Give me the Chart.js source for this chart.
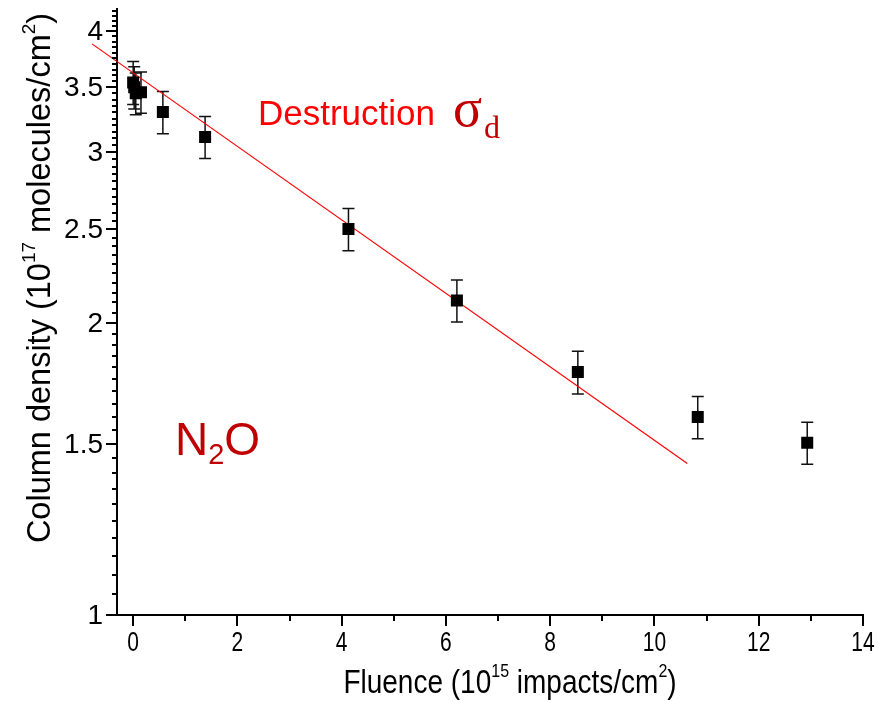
<!DOCTYPE html>
<html>
<head>
<meta charset="utf-8">
<script src="https://cdn.jsdelivr.net/npm/chart.js@4.4.0/dist/chart.umd.min.js"></script>
<style>
  body { margin: 0; background: #fff; }
  #wrap { width: 879px; height: 701px; }
</style>
</head>
<body>
<div id="wrap"><canvas id="chart" width="879" height="701"></canvas></div>
<script>
// N2O column density vs fluence (1e15 impacts/cm2 -> 1e17 molecules/cm2)
const fluence = [0, 0.02, 0.05, 0.15, 0.57, 1.38, 4.13, 6.21, 8.53, 10.83, 12.93];
const density = [3.54, 3.50, 3.45, 3.46, 3.30, 3.11, 2.50, 2.11, 1.78, 1.60, 1.505];
const densityErr = [0.18, 0.175, 0.17, 0.17, 0.165, 0.155, 0.125, 0.105, 0.09, 0.08, 0.075];

// end points of the red exponential fit
const fitX = [-0.79, 10.63];
const fitY = [3.88, 1.433];

const xTicks = [0, 2, 4, 6, 8, 10, 12, 14];
const xMinorTicks = [1, 3, 5, 7, 9, 11, 13];
const yTicks = [1, 1.5, 2, 2.5, 3, 3.5, 4];
const yTickLabels = ['1', '1.5', '2', '2.5', '3', '3.5', '4'];

const FONT = 'Arial, "Liberation Sans", sans-serif';
const SERIF = '"Times New Roman", "Liberation Serif", serif';

// minor ticks on the log axis every 0.05
const yMinorTicks = [];
for (let i = 20; i <= 84; i++) yMinorTicks.push(i / 20);

// draws text pieces one after another; each piece is [text, size, rise, font]
function richText(ctx, parts, x, y, align) {
  let w = 0;
  parts.forEach(p => {
    ctx.font = p[1] + 'px ' + (p[3] || FONT);
    w += ctx.measureText(p[0]).width;
  });
  let cx = align === 'center' ? x - w / 2 : x;
  parts.forEach(p => {
    ctx.font = p[1] + 'px ' + (p[3] || FONT);
    ctx.fillText(p[0], cx, y - (p[2] || 0));
    cx += ctx.measureText(p[0]).width;
  });
}

const decor = {
  id: 'decor',
  beforeDatasetsDraw(chart) {
    const { ctx, scales: { x, y } } = chart;
    ctx.save();
    ctx.strokeStyle = '#111';
    ctx.lineWidth = 1.5;
    for (let i = 0; i < fluence.length; i++) {
      const px = x.getPixelForValue(fluence[i]);
      const top = y.getPixelForValue(density[i] + densityErr[i]);
      const bot = y.getPixelForValue(density[i] - densityErr[i]);
      ctx.beginPath();
      ctx.moveTo(px, top); ctx.lineTo(px, bot);
      ctx.moveTo(px - 6, top); ctx.lineTo(px + 6, top);
      ctx.moveTo(px - 6, bot); ctx.lineTo(px + 6, bot);
      ctx.stroke();
    }
    ctx.restore();
  },
  afterDraw(chart) {
    const { ctx, chartArea, scales: { x, y } } = chart;
    const left = chartArea.left, bottom = chartArea.bottom;
    ctx.save();
    ctx.strokeStyle = '#000';
    ctx.lineWidth = 2;
    ctx.beginPath();
    yMinorTicks.forEach(v => {
      const py = Math.round(y.getPixelForValue(v));
      ctx.moveTo(left - 5, py); ctx.lineTo(left, py);
    });
    yTicks.forEach(v => {
      const py = Math.round(y.getPixelForValue(v));
      ctx.moveTo(left - 11, py); ctx.lineTo(left, py);
    });
    xMinorTicks.forEach(v => {
      const px = Math.round(x.getPixelForValue(v));
      ctx.moveTo(px, bottom); ctx.lineTo(px, bottom + 6);
    });
    xTicks.forEach(v => {
      const px = Math.round(x.getPixelForValue(v));
      ctx.moveTo(px, bottom); ctx.lineTo(px, bottom + 11);
    });
    ctx.stroke();

    // tick labels
    ctx.fillStyle = '#000';
    ctx.font = '28px ' + FONT;
    ctx.textAlign = 'right';
    ctx.textBaseline = 'middle';
    yTicks.forEach((v, i) => {
      ctx.fillText(yTickLabels[i], 103, y.getPixelForValue(v) + 1);
    });
    ctx.textAlign = 'center';
    ctx.textBaseline = 'top';
    ctx.font = '21px ' + FONT;
    xTicks.forEach(v => {
      ctx.save();
      ctx.translate(x.getPixelForValue(v), 629);
      ctx.scale(1, 1.35);
      ctx.fillText(String(v), 0, 0);
      ctx.restore();
    });

    // axis titles
    ctx.textAlign = 'left';
    ctx.textBaseline = 'alphabetic';
    ctx.save();
    ctx.translate(0, 693);
    ctx.scale(1, 1.2);
    richText(ctx, [['Fluence (10', 28], ['15', 16, 13], [' impacts/cm', 28], ['2', 16, 13], [')', 28]], 510, 0, 'center');
    ctx.restore();

    ctx.save();
    ctx.translate(50, 278);
    ctx.rotate(-Math.PI / 2);
    richText(ctx, [['Column density (10', 32.5], ['17', 19, 15], [' molecules/cm', 32.5], ['2', 19, 15], [')', 32.5]], 0, 0, 'center');
    ctx.restore();

    // annotations
    ctx.fillStyle = '#ff0000';
    ctx.font = '35px ' + FONT;
    ctx.fillText('Destruction', 258, 125);
    ctx.fillStyle = '#c00000';
    ctx.font = '54px ' + SERIF;
    ctx.fillText('\u03c3', 453, 126);
    ctx.font = '32px ' + SERIF;
    ctx.fillText('d', 484, 138);

    richText(ctx, [['N', 46], ['2', 29, -9], ['O', 46]], 175, 455, 'left');
    ctx.restore();
  }
};

const pointData = fluence.map((f, i) => ({ x: f, y: density[i] }));
const fitData = fitX.map((f, i) => ({ x: f, y: fitY[i] }));

new Chart(document.getElementById('chart'), {
  type: 'scatter',
  data: {
    datasets: [
      {
        label: 'N2O',
        data: pointData,
        pointStyle: 'rect',
        pointRadius: 8.5,
        pointHoverRadius: 8.5,
        backgroundColor: '#000',
        borderColor: '#000',
        borderWidth: 0
      },
      {
        label: 'fit',
        data: fitData,
        showLine: true,
        pointRadius: 0,
        borderColor: '#ff0000',
        borderWidth: 1.2,
        clip: false
      }
    ]
  },
  plugins: [decor],
  options: {
    responsive: false,
    animation: false,
    layout: { padding: { top: 8, right: 16, left: 0, bottom: 0 } },
    plugins: {
      legend: { display: false },
      tooltip: { enabled: false }
    },
    scales: {
      x: {
        type: 'linear',
        min: -0.31,
        max: 14,
        grid: { display: false },
        border: { display: true, color: '#000', width: 2 },
        ticks: { display: false },
        afterFit: (scale) => { scale.height = 86; }
      },
      y: {
        type: 'logarithmic',
        min: 1,
        max: 4.22,
        grid: { display: false },
        border: { display: true, color: '#000', width: 2 },
        ticks: { display: false },
        afterFit: (scale) => { scale.width = 117; }
      }
    }
  }
});
</script>
</body>
</html>
